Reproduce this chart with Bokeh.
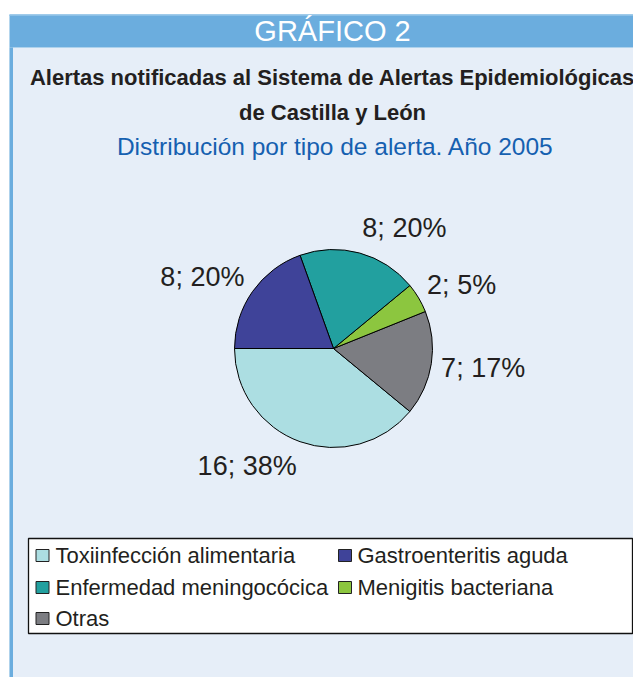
import math
from bokeh.plotting import figure
from bokeh.models import Range1d
from bokeh.embed import file_html
from bokeh.resources import INLINE
from bokeh.core.properties import value

# ---------------- data ----------------
categories = ["Toxiinfección alimentaria", "Gastroenteritis aguda",
              "Enfermedad meningocócica", "Menigitis bacteriana", "Otras"]
counts = [16, 8, 8, 2, 7]
percent_labels = ["38%", "20%", "20%", "5%", "17%"]
colors = ["#acdee2", "#3f4399", "#22a09f", "#8cc63f", "#7c7d82"]
# order in which slices are laid out, anticlockwise starting at 180 degrees
pie_order = [0, 4, 3, 2, 1]

header_text = "GRÁFICO 2"
title_lines = ["Alertas notificadas al Sistema de Alertas Epidemiológicas",
               "de Castilla y León"]
subtitle = "Distribución por tipo de alerta. Año 2005"

# ---------------- layout helpers (pixel from top-left -> data) ----------------
W, H = 633, 677
def Y(v):
    return H - v

FONT = "Liberation Sans"
TXT = "#231f20"

p = figure(width=W, height=H, output_backend="svg", toolbar_location=None,
           x_range=Range1d(0, W), y_range=Range1d(0, H),
           min_border=0, min_border_left=0, min_border_right=0,
           min_border_top=0, min_border_bottom=0)
p.axis.visible = False
p.grid.visible = False
p.outline_line_color = None
p.background_fill_color = "white"
p.border_fill_color = "white"

# panel
p.quad(left=[9], right=[W], top=[Y(47)], bottom=[Y(H)],
       fill_color="#e6eef8", line_color=None)
p.quad(left=[9], right=[W], top=[Y(14)], bottom=[Y(47)],
       fill_color="#6badde", line_color=None)
p.quad(left=[9], right=[W], top=[Y(14)], bottom=[Y(15.5)],
       fill_color="#8cc0e6", line_color=None)
p.quad(left=[9], right=[12.5], top=[Y(47)], bottom=[Y(H)],
       fill_color="#6badde", line_color=None)

# texts
p.text(x=[332], y=[Y(30.5)], text=[header_text], text_font=value(FONT),
       text_font_size="29px", text_color="white",
       text_align="center", text_baseline="middle")
p.text(x=[332], y=[Y(76.5)], text=[title_lines[0]], text_font=value(FONT),
       text_font_size="22px", text_font_style="bold", text_color=TXT,
       text_align="center", text_baseline="middle")
p.text(x=[332], y=[Y(112)], text=[title_lines[1]], text_font=value(FONT),
       text_font_size="22px", text_font_style="bold", text_color=TXT,
       text_align="center", text_baseline="middle")
p.text(x=[335], y=[Y(145.5)], text=[subtitle], text_font=value(FONT),
       text_font_size="24.5px", text_color="#1560b0",
       text_align="center", text_baseline="middle")

# pie
cx, cy, r = 333, Y(348), 99
total = sum(counts)
start = math.pi
for i in pie_order:
    end = start + counts[i] / total * 2 * math.pi
    p.wedge(x=[cx], y=[cy], radius=r, start_angle=[start], end_angle=[end],
            fill_color=colors[i], line_color="black", line_width=1)
    mid = (start + end) / 2
    c, s = math.cos(mid), math.sin(mid)
    lx = cx + 1.1 * r * c
    ly = cy + 1.26 * r * s
    align = "left" if c > 0 else "right"
    p.text(x=[lx], y=[ly], text=[f"{counts[i]}; {percent_labels[i]}"],
           text_font=value(FONT), text_font_size="27px", text_color=TXT,
           text_align=align, text_baseline="middle")
    start = end

# legend
p.quad(left=[28], right=[632], top=[Y(538)], bottom=[Y(633)],
       fill_color="white", line_color="#111111", line_width=1.3)
col_sw = [42, 344.5]
col_tx = [55, 357]
rows = [555, 587, 618]
for i, name in enumerate(categories):
    rrow, ccol = i // 2, i % 2
    p.rect(x=[col_sw[ccol]], y=[Y(rows[rrow])], width=13, height=12,
           fill_color=colors[i], line_color="#222222", line_width=1)
    p.text(x=[col_tx[ccol]], y=[Y(rows[rrow])], text=[name],
           text_font=value(FONT), text_font_size="22px", text_color=TXT,
           text_align="left", text_baseline="middle")

open("out.html", "w").write(file_html(p, INLINE))
